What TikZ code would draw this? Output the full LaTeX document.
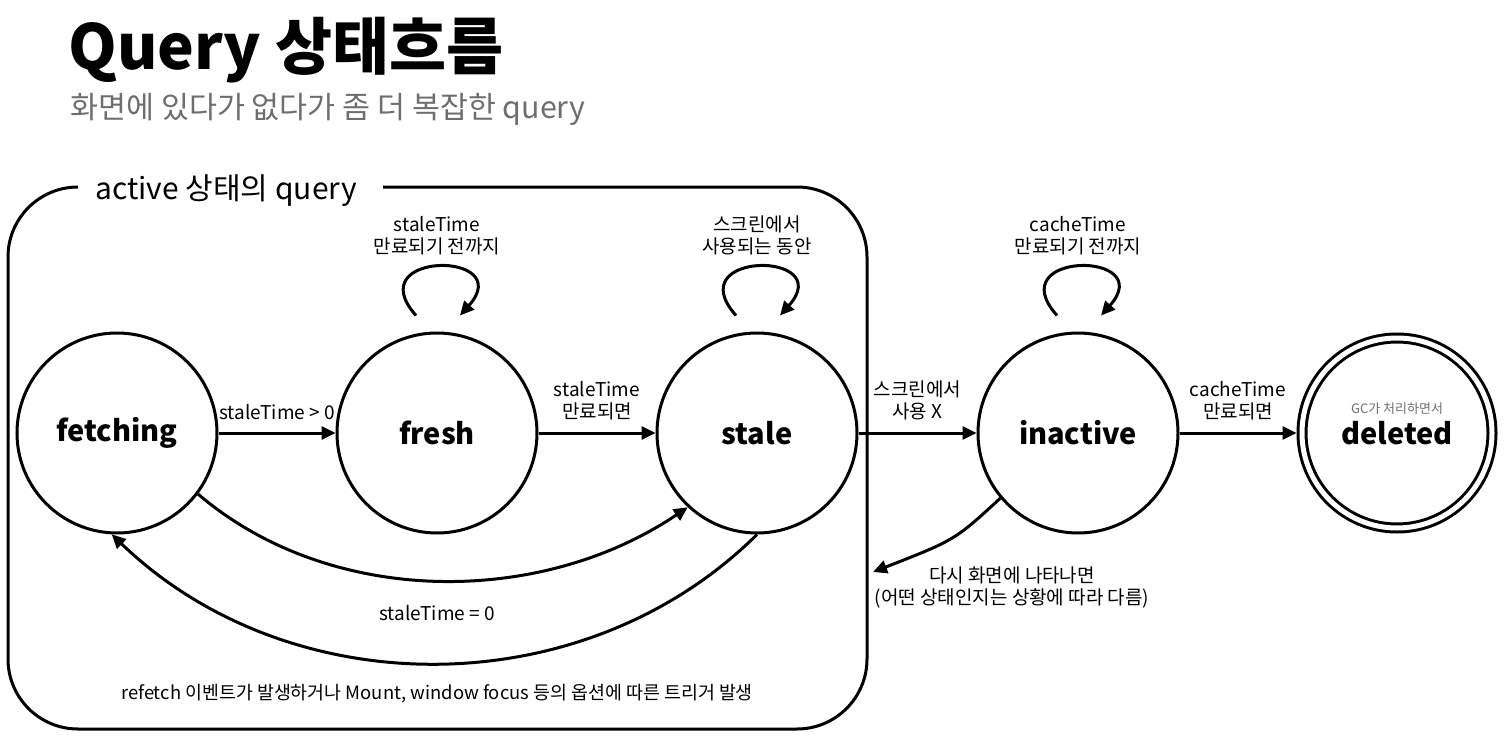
\documentclass[tikz,border=0pt]{standalone}
\usepackage{fontspec}
\setmainfont{Noto Sans CJK KR}
\usetikzlibrary{arrows.meta}
\definecolor{qsInk}{HTML}{000000}
\definecolor{qsGray}{HTML}{6E6E6E}
\tikzset{
  qs frame/.style={draw=qsInk, line width=1.5pt},
  qs arrow/.style={draw=qsInk, line width=1.5pt, -{Triangle[length=7pt,width=6.5pt]}},
  qs state/.style={circle, draw=qsInk, line width=1.5pt, minimum size=100pt, inner sep=0pt,
    font=\fontsize{14.5}{18}\selectfont\bfseries},
  qs final/.style={qs state, double=white, double distance=2.5pt, minimum size=95pt, outer sep=2.75pt},
  qs label/.style={font=\fontsize{9.5}{11}\selectfont, text=qsInk, align=center, inner sep=0pt},
  qs note/.style={font=\fontsize{6.5}{8}\selectfont, text=qsGray, inner sep=0pt},
  qs title/.style={font=\fontsize{31}{36}\selectfont\bfseries, text=qsInk, inner sep=0pt},
  qs subtitle/.style={font=\fontsize{15.2}{18}\selectfont, text=qsGray, inner sep=0pt},
  qs group label/.style={font=\fontsize{15}{18}\selectfont, text=qsInk, inner sep=0pt},
}

\begin{document}
\begin{tikzpicture}[x=0.5pt,y=-0.5pt]
  \useasboundingbox (0,0) rectangle (1505,749);

  % title
  \node[qs title, anchor=base west] (title) at (68,70) {Query 상태흐름};
  \node[qs subtitle, anchor=base west] (subtitle) at (70,119) {화면에 있다가 없다가 좀 더 복잡한 query};

  % active frame
  \draw[qs frame, rounded corners=35pt] (78,187) -- (8,187) -- (8,729) -- (867,729) -- (867,187) -- (383,187);
  \node[qs group label, anchor=base west] (activeLabel) at (95,199) {active 상태의 query};

  % states
  \node[qs state] (fetching) at (117,433) {fetching};
  \node[qs state] (fresh) at (437,433) {fresh};
  \node[qs state] (stale) at (757,433) {stale};
  \node[qs state] (inactive) at (1078,433) {inactive};
  \node[qs final] (deleted) at (1397,433) {deleted};
  \node[qs note] (gcNote) at (1397,409) {GC가 처리하면서};

  % self loops
  \foreach \s/\txt in {fresh/{staleTime\\만료되기 전까지}, stale/{스크린에서\\사용되는 동안}, inactive/{cacheTime\\만료되기 전까지}} {
    \draw[qs arrow] ([shift={(-21,-16)}]\s.north) .. controls +(-58,-65) and +(58,-65) .. ([shift={(23,-16)}]\s.north);
    \node[qs label] (\s Loop) at ([yshift=48pt]\s.north) {\txt};
  }

  % transitions
  \draw[qs arrow] (fetching) -- node[qs label, above=6pt] (toFresh) {staleTime > 0} (fresh);
  \draw[qs arrow] (fresh) -- node[qs label, above=6pt] (toStale) {staleTime\\만료되면} (stale);
  \draw[qs arrow] (stale) -- node[qs label, above=6pt] (toInactive) {스크린에서\\사용 X} (inactive);
  \draw[qs arrow] (inactive) -- node[qs label, above=6pt] (toDeleted) {cacheTime\\만료되면} (deleted);

  \draw[qs arrow] (fetching.-37) .. controls (330,607) and (540,607) .. (stale.-133);
  \draw[qs arrow] (stale.south) .. controls (584,706) and (290,706) .. (fetching.-93);
  \node[qs label] (zeroLabel) at (437,613) {staleTime = 0};

  \coordinate (reentry) at (873,572);
  \draw[qs arrow] (inactive.-140) .. controls (955,540) .. (reentry);
  \node[qs label] (reentryLabel) at (1012,588) {다시 화면에 나타나면\\(어떤 상태인지는 상황에 따라 다름)};

  \node[qs label, font=\fontsize{9.2}{11}\selectfont] (refetchNote) at (437,694) {refetch 이벤트가 발생하거나 Mount, window focus 등의 옵션에 따른 트리거 발생};
\end{tikzpicture}
\end{document}
